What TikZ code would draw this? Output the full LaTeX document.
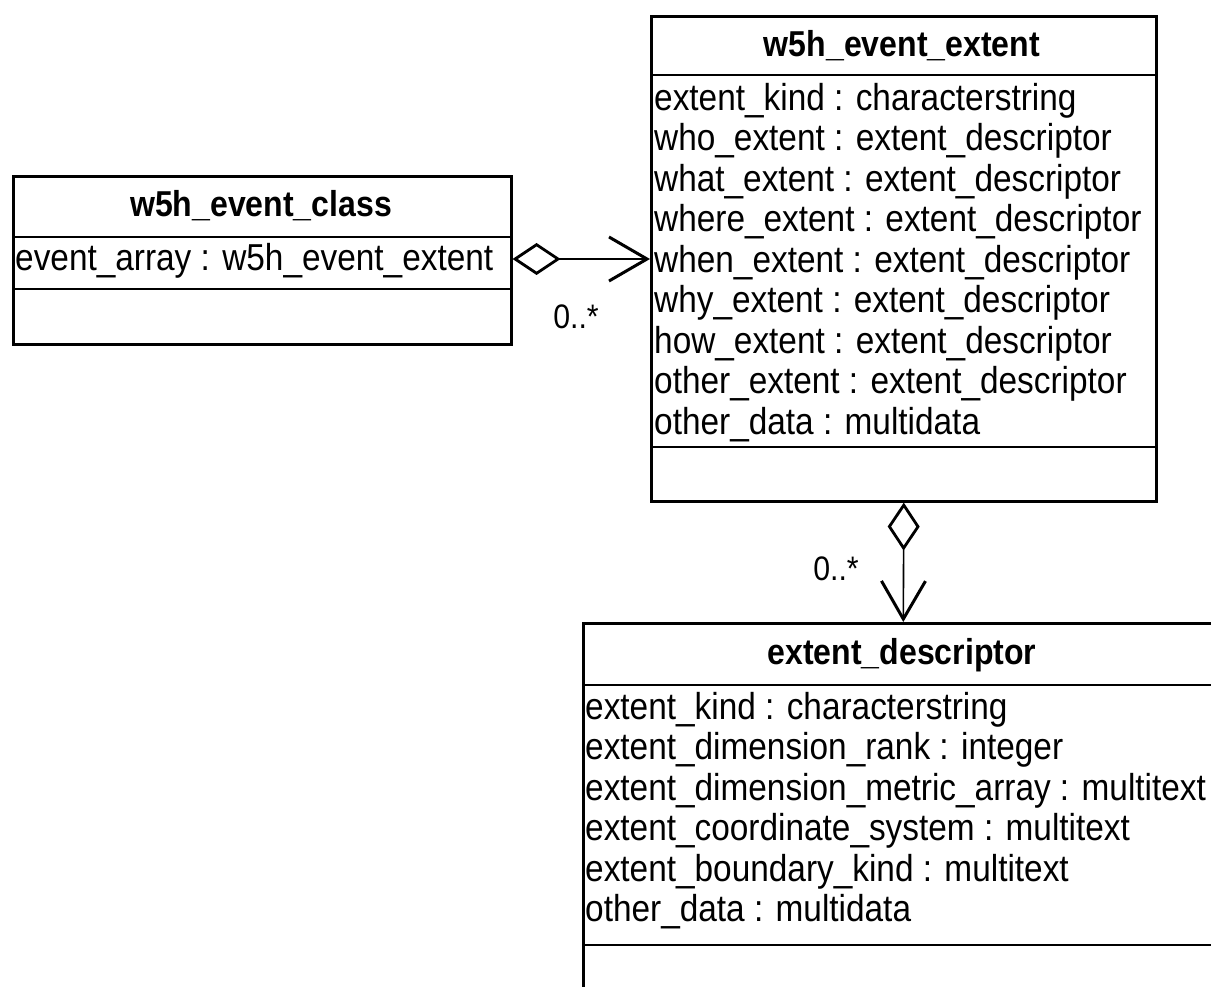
\documentclass[tikz,border=0pt]{standalone}
\usepackage{fontspec}
\setmainfont{Liberation Sans}[FakeStretch=0.89]
\usetikzlibrary{arrows.meta}
\begin{document}
\begin{tikzpicture}[x=1pt,y=-1pt,
  classbox/.style={draw, line width=2.6pt, inner sep=0pt, anchor=north west},
  sepline/.style={line width=2.6pt},
  ctitle/.style={font=\fontsize{36}{40}\selectfont\bfseries, inner sep=0pt},
  attr/.style={font=\fontsize{37.5}{40}\selectfont, inner sep=0pt, anchor=west},
  mult/.style={font=\fontsize{34}{38}\selectfont, inner sep=0pt},
  assoc/.style={line width=1.6pt,
    {Diamond[open,length=48pt,width=32pt,line width=2.8pt]}-{Straight Barb[length=38pt,width=44pt,line width=3pt]}}
]
\useasboundingbox (0,0) rectangle (1211,987);
\clip (0,0) rectangle (1211,987);

% w5h_event_class
\node[classbox, minimum width=498pt, minimum height=168pt] (cls) at (12,175) {};
\node[ctitle] (clsT) at (261,206) {w5h\_event\_class};
\draw[sepline] (cls.west |- 0,237) -- (cls.east |- 0,237);
\node[attr] (clsA) at (15,261) {event\_array : w5h\_event\_extent};
\draw[sepline] (cls.west |- 0,289) -- (cls.east |- 0,289);

% w5h_event_extent
\node[classbox, minimum width=505pt, minimum height=485pt] (ext) at (650,15) {};
\node[ctitle] (extT) at (902,46) {w5h\_event\_extent};
\draw[sepline] (ext.west |- 0,75) -- (ext.east |- 0,75);
\node[attr] (e1) at (654,101) {extent\_kind : characterstring};
\node[attr] (e2) at (654,141) {who\_extent : extent\_descriptor};
\node[attr] (e3) at (654,182) {what\_extent : extent\_descriptor};
\node[attr] (e4) at (654,222) {where\_extent : extent\_descriptor};
\node[attr] (e5) at (654,263) {when\_extent : extent\_descriptor};
\node[attr] (e6) at (654,303) {why\_extent : extent\_descriptor};
\node[attr] (e7) at (654,344) {how\_extent : extent\_descriptor};
\node[attr] (e8) at (654,384) {other\_extent : extent\_descriptor};
\node[attr] (e9) at (654,425) {other\_data : multidata};
\draw[sepline] (ext.west |- 0,447) -- (ext.east |- 0,447);

% extent_descriptor
\node[classbox, minimum width=640pt, minimum height=420pt] (desc) at (582,622) {};
\node[ctitle] (descT) at (902,655) {extent\_descriptor};
\draw[sepline] (desc.west |- 0,685) -- (desc.east |- 0,685);
\node[attr] (d1) at (585,710) {extent\_kind : characterstring};
\node[attr] (d2) at (585,750) {extent\_dimension\_rank : integer};
\node[attr] (d3) at (585,791) {extent\_dimension\_metric\_array : multitext};
\node[attr] (d4) at (585,831) {extent\_coordinate\_system : multitext};
\node[attr] (d5) at (585,872) {extent\_boundary\_kind : multitext};
\node[attr] (d6) at (585,912) {other\_data : multidata};
\draw[sepline] (desc.west |- 0,945) -- (desc.east |- 0,945);

% associations
\draw[assoc] (cls.east |- 0,259) -- (ext.west |- 0,259);
\node[mult] (m1) at (576,317) {0..*};
\draw[assoc] (ext.south) -- (desc.north);
\node[mult] (m2) at (836,569) {0..*};
\end{tikzpicture}
\end{document}
